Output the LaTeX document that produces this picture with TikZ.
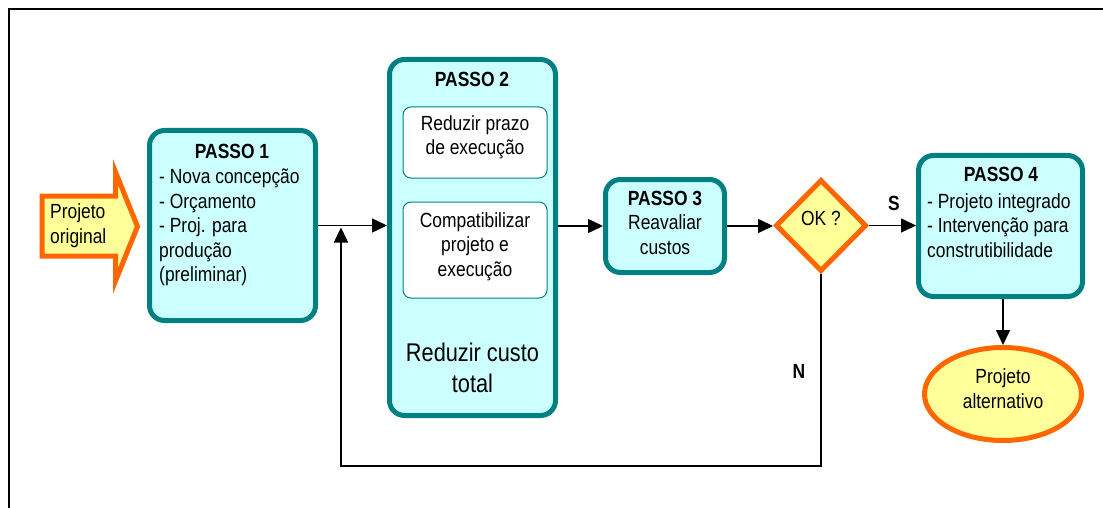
\documentclass[tikz,border=0pt]{standalone}
\usepackage{fontspec}
\setmainfont{Liberation Sans}[FakeStretch=0.85]
\usetikzlibrary{arrows.meta,shapes.geometric}
\definecolor{tealc}{RGB}{0,128,128}
\definecolor{cyanl}{RGB}{204,255,255}
\definecolor{orangec}{RGB}{255,102,0}
\definecolor{yellowc}{RGB}{255,255,153}
\begin{document}
\begin{tikzpicture}[x=1pt,y=-1pt,
  txt/.style={font=\fontsize{20.5}{24.5}\selectfont, inner sep=0pt},
  boldtxt/.style={font=\fontsize{20.5}{24.5}\selectfont\bfseries, inner sep=0pt},
  bigtxt/.style={font=\fontsize{25.6}{31}\selectfont, inner sep=0pt},
  stepbox/.style={draw=tealc, fill=cyanl, line width=5pt, rounded corners=15pt, outer sep=2.5pt, inner sep=0pt},
  subbox/.style={draw=tealc, fill=white, line width=1pt, rounded corners=8pt, inner sep=0pt},
  decision/.style={diamond, draw=orangec, fill=yellowc, line width=5pt, outer sep=2.5pt, inner sep=0pt},
  terminal/.style={ellipse, draw=orangec, fill=yellowc, line width=5pt, outer sep=2.5pt, inner sep=0pt},
  conn/.style={draw=black, line width=1.5pt, -{Triangle[length=15pt,width=14pt]}},
  plain/.style={draw=black, line width=1.5pt}]
\useasboundingbox (0,0) rectangle (1103,508);
% frame
\draw[line width=2pt] (9,508) -- (9,9) -- (1103,9);

% input arrow
\draw[draw=orangec, fill=yellowc, line width=5pt, miter limit=10]
  (42,196) -- (115.5,196) -- (115.5,172) -- (137.5,226.5) -- (115.5,281) -- (115.5,256) -- (42,256) -- cycle;
\node[txt, anchor=base west, align=left] (origtxt) at (50,243) {Projeto\\original};

% PASSO 1
\node[stepbox, minimum width=166pt, minimum height=190pt] (p1) at (232.5,225.5) {};
\node[boldtxt, anchor=base] (p1t) at (232,159) {PASSO 1};
\node[txt, anchor=base west, align=left] (p1l) at (159,281.5) {- Nova concepção\\- Orçamento\\- Proj. para\\produção\\(preliminar)};

% PASSO 2
\node[stepbox, minimum width=166pt, minimum height=356pt] (p2) at (472.5,237.5) {};
\node[boldtxt, anchor=base] (p2t) at (472,87) {PASSO 2};
\node[subbox, minimum width=144pt, minimum height=71pt] (ib1) at (475,142.5) {};
\node[txt, anchor=base, align=center] (ib1t) at (475,155) {Reduzir prazo\\de execução};
\node[subbox, minimum width=144pt, minimum height=96pt] (ib2) at (475,250) {};
\node[txt, anchor=base, align=center] (ib2t) at (475,276) {Compatibilizar\\projeto e\\execução};
\node[bigtxt, anchor=base, align=center] (p2b) at (472.5,392) {Reduzir custo\\total};

% PASSO 3
\node[stepbox, minimum width=119pt, minimum height=93pt] (p3) at (665,226) {};
\node[txt, anchor=base, align=center] (p3t) at (665,254) {\textbf{PASSO 3}\\Reavaliar\\custos};

% decision
\node[decision, minimum width=91pt, minimum height=92pt] (ok) at (821,225.5) {};
\node[txt, anchor=base] (okt) at (821,225) {OK ?};

% PASSO 4
\node[stepbox, minimum width=164pt, minimum height=141pt] (p4) at (1000.5,226) {};
\node[boldtxt, anchor=base] (p4t) at (1001,182) {PASSO 4};
\node[txt, anchor=base west, align=left] (p4l) at (927,257) {- Projeto integrado\\- Intervenção para\\construtibilidade};

% terminal
\node[terminal, minimum width=157pt, minimum height=93pt] (alt) at (1003,394) {};
\node[txt, anchor=base, align=center] (altt) at (1003,408) {Projeto\\alternativo};

% labels
\node[boldtxt, anchor=base] (slab) at (894,210) {S};
\node[boldtxt, anchor=base] (nlab) at (799,378) {N};

% connectors
\draw[conn] (p1.east) -- (p1.east -| p2.west);
\draw[conn] (p2.east |- p3.west) -- (p3.west);
\draw[conn] (p3.east) -- (p3.east -| ok.west);
\draw[conn] (ok.east) -- (ok.east -| p4.west);
\draw[conn] (alt.north |- p4.south) -- (alt.north);
\coordinate (fbcorner) at (341,466);
\coordinate (fbend) at (341,227.5);
\draw[conn] (ok.south) |- (fbcorner) -- (fbend);
\end{tikzpicture}
\end{document}
